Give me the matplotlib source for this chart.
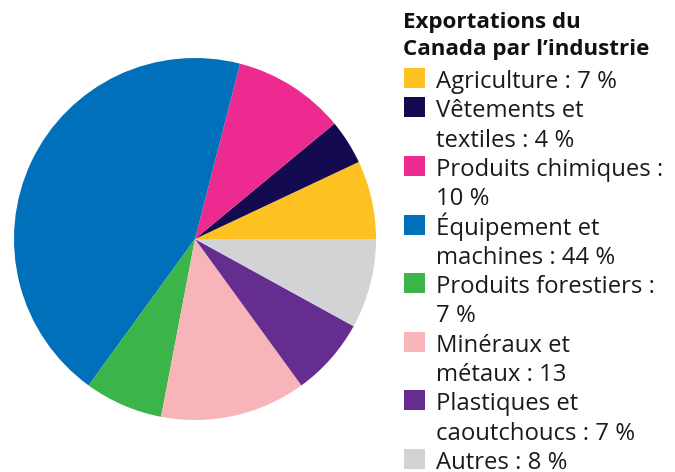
import matplotlib
matplotlib.use("Agg")
import matplotlib.pyplot as plt
from matplotlib.patches import Rectangle

W, H = 675, 472
title_lines = ["Exportations du", "Canada par l\u2019industrie"]
categories = ["Agriculture", "Vêtements et textiles", "Produits chimiques",
              "Équipement et machines", "Produits forestiers",
              "Minéraux et métaux", "Plastiques et caoutchoucs", "Autres"]
values = [7, 4, 10, 44, 7, 13, 7, 8]
legend_labels = [["Agriculture : 7 %"],
                 ["Vêtements et", "textiles : 4 %"],
                 ["Produits chimiques :", "10 %"],
                 ["Équipement et", "machines : 44 %"],
                 ["Produits forestiers :", "7 %"],
                 ["Minéraux et", "métaux : 13"],
                 ["Plastiques et", "caoutchoucs : 7 %"],
                 ["Autres : 8 %"]]
colors = ["#FDC122", "#130A4F", "#EC2A8F", "#0070BA", "#3BB54A",
          "#F7B5BA", "#662D91", "#D1D3D4"]

fig = plt.figure(figsize=(W / 100, H / 100), dpi=100)
cx, cy, r = 195, 239, 181
ax = fig.add_axes([(cx - r) / W, 1 - (cy + r) / H, 2 * r / W, 2 * r / H])
ax.pie(values, colors=colors, startangle=0, counterclock=True, radius=1,
       wedgeprops=dict(linewidth=0))
ax.set_xlim(-1, 1)
ax.set_ylim(-1, 1)
ax.set_aspect("equal")
ax.axis("off")

def fy(py):
    return 1 - py / H

font = "Open Sans"
for yb, t in zip([28, 55], title_lines):
    fig.text(403 / W, fy(yb), t, fontsize=16.1, fontweight="bold",
             family=font, va="baseline", ha="left", color="#111111")

base = 88
step = 29.3
k = 0
for lines, c in zip(legend_labels, colors):
    b = base + k * step
    fig.patches.append(Rectangle((404 / W, fy(b)), 21 / W, 20 / H,
                                 transform=fig.transFigure, facecolor=c,
                                 edgecolor="none"))
    for ln in lines:
        bb = base + k * step
        fig.text(436 / W, fy(bb), ln, fontsize=17.2, family=font,
                 va="baseline", ha="left", color="#1a1a1a")
        k += 1

fig.savefig("out.png", dpi=100)
